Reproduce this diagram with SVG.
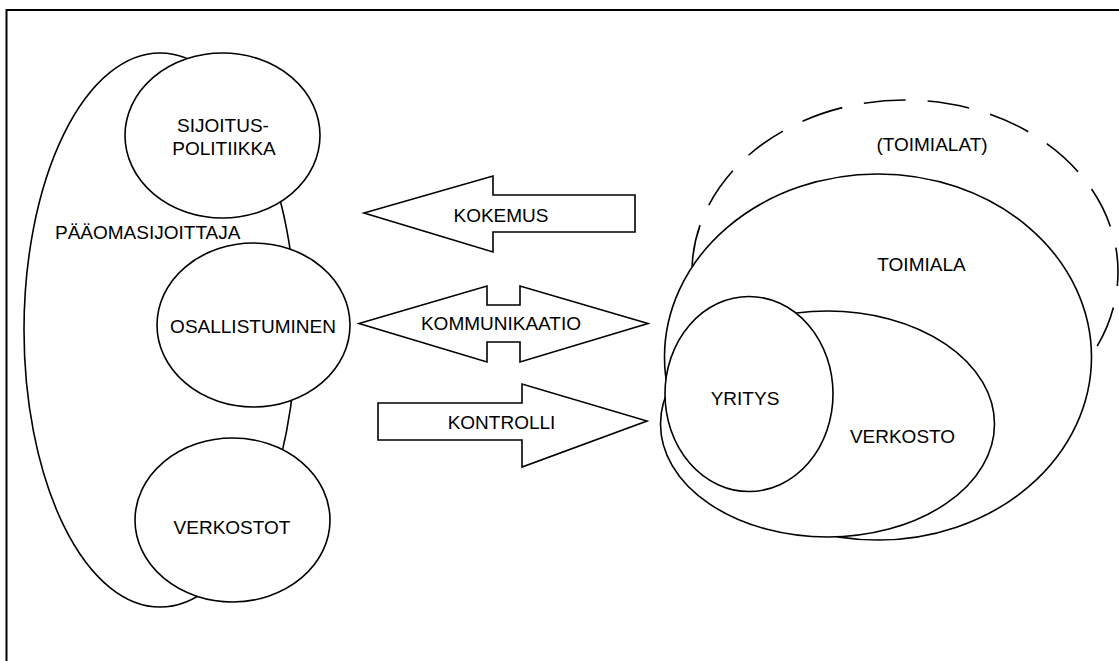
<svg xmlns="http://www.w3.org/2000/svg" width="1119" height="661" viewBox="0 0 1119 661">
  <style>
    .shape { fill: #fff; stroke: #000; stroke-width: 1.6; }
    .dash { fill: none; stroke: #000; stroke-width: 1.6; stroke-dasharray: 42 22; }
    .lbl { font-family: "Liberation Sans", Arial, sans-serif; font-size: 19px; fill: #000; }
    .mid { text-anchor: middle; }
  </style>
  <rect x="0" y="0" width="1119" height="661" fill="#fff"/>
  <g id="frame">
    <path d="M6.5,661 V10 H1119" fill="none" stroke="#000" stroke-width="2"/>
  </g>

  <g id="paaomasijoittaja">
    <ellipse class="shape" cx="160" cy="330" rx="136" ry="277"/>
    <text class="lbl" x="55" y="239">PÄÄOMASIJOITTAJA</text>
  </g>
  <g id="sijoituspolitiikka">
    <ellipse class="shape" cx="222.5" cy="135.5" rx="97.5" ry="82.5"/>
    <text class="lbl mid" x="223" y="132">SIJOITUS-</text>
    <text class="lbl mid" x="224" y="154.5">POLITIIKKA</text>
  </g>
  <g id="osallistuminen">
    <ellipse class="shape" cx="253.5" cy="325" rx="96.5" ry="82"/>
    <text class="lbl mid" x="253" y="333">OSALLISTUMINEN</text>
  </g>
  <g id="verkostot">
    <ellipse class="shape" cx="232.5" cy="520" rx="97.5" ry="82"/>
    <text class="lbl mid" x="232" y="534">VERKOSTOT</text>
  </g>

  <g id="toimialat">
    <ellipse class="dash" cx="905" cy="272" rx="213" ry="172" stroke-dashoffset="28"/>
    <text class="lbl mid" x="932" y="151">(TOIMIALAT)</text>
  </g>
  <g id="toimiala">
    <ellipse class="shape" cx="878" cy="357" rx="213.5" ry="183"/>
    <text class="lbl mid" x="921.5" y="270.5">TOIMIALA</text>
  </g>
  <g id="verkosto">
    <ellipse class="shape" cx="827.5" cy="424" rx="167" ry="113"/>
    <text class="lbl mid" x="902.5" y="443">VERKOSTO</text>
  </g>
  <g id="yritys">
    <ellipse class="shape" cx="749" cy="394" rx="84" ry="97.5"/>
    <text class="lbl mid" x="745" y="405">YRITYS</text>
  </g>

  <g id="connectors">
    <g id="kokemus">
      <polygon class="shape" points="364,213 493,176 493,195 635,195 635,232 493,232 493,252"/>
      <text class="lbl mid" x="501" y="221.5">KOKEMUS</text>
    </g>
    <g id="kommunikaatio">
      <polygon class="shape" points="359,323.5 487,286 487,305 520,305 520,286 648,323.5 520,362 520,342 487,342 487,362"/>
      <text class="lbl mid" x="501" y="329.5">KOMMUNIKAATIO</text>
    </g>
    <g id="kontrolli">
      <polygon class="shape" points="378,403 522,403 522,384 647,421 522,467 522,440 378,440"/>
      <text class="lbl mid" x="501.5" y="428.5">KONTROLLI</text>
    </g>
  </g>
</svg>
